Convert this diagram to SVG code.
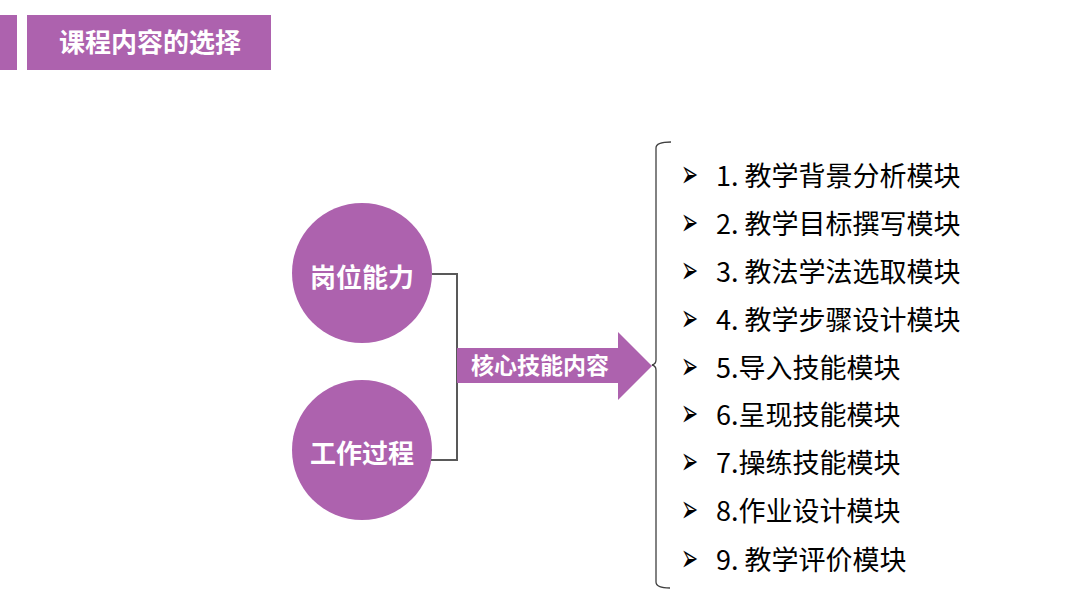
<svg xmlns="http://www.w3.org/2000/svg" width="1079" height="605" viewBox="0 0 1079 605">
<style>
.p{fill:#AD62AE}
.wt{fill:#fff;font-family:"Noto Sans CJK SC","Noto Sans",sans-serif;font-weight:bold}
.it{fill:#000;font-family:"Noto Sans CJK SC","Noto Sans",sans-serif;font-size:27px}
.bl{fill:#000;font-family:"DejaVu Sans",sans-serif;font-size:24px}
.cn{fill:none;stroke:#595959;stroke-width:2}
.br{fill:none;stroke:#404040;stroke-width:1.3}
</style>
<rect width="1079" height="605" fill="#fff"/>
<g id="title">
<rect class="p" x="0" y="15" width="17" height="55"/>
<rect class="p" x="27" y="15" width="244" height="55"/>
<text class="wt" x="59" y="52" font-size="26">课程内容的选择</text>
</g>
<g id="node-gangwei">
<circle class="p" cx="362" cy="273" r="70"/>
<text class="wt" x="362" y="287" font-size="26" text-anchor="middle">岗位能力</text>
</g>
<g id="node-gongzuo">
<circle class="p" cx="362" cy="450" r="70"/>
<text class="wt" x="362" y="463" font-size="26" text-anchor="middle">工作过程</text>
</g>
<g id="connectors">
<path class="cn" d="M432 274 H457 V460 H431"/>
</g>
<g id="node-hexin">
<path class="p" d="M457 348 H618 V332 L652 366 L618 400 V383 H457 Z"/>
<text class="wt" x="540" y="374" font-size="23" text-anchor="middle">核心技能内容</text>
</g>
<g id="bracket">
<path class="br" d="M671 142 Q656 142 656 148 V360 Q656 364 652 365 Q656 366 656 370 V582 Q656 588 670 588"/>
</g>
<g id="list">
<text class="bl" transform="translate(681,187) scale(0.85,1.6)">➢</text><text class="it" x="716" y="186">1. 教学背景分析模块</text>
<text class="bl" transform="translate(681,235) scale(0.85,1.6)">➢</text><text class="it" x="716" y="234">2. 教学目标撰写模块</text>
<text class="bl" transform="translate(681,283) scale(0.85,1.6)">➢</text><text class="it" x="716" y="282">3. 教法学法选取模块</text>
<text class="bl" transform="translate(681,331) scale(0.85,1.6)">➢</text><text class="it" x="716" y="330">4. 教学步骤设计模块</text>
<text class="bl" transform="translate(681,379) scale(0.85,1.6)">➢</text><text class="it" x="716" y="378">5.导入技能模块</text>
<text class="bl" transform="translate(681,426) scale(0.85,1.6)">➢</text><text class="it" x="716" y="425">6.呈现技能模块</text>
<text class="bl" transform="translate(681,474) scale(0.85,1.6)">➢</text><text class="it" x="716" y="473">7.操练技能模块</text>
<text class="bl" transform="translate(681,522) scale(0.85,1.6)">➢</text><text class="it" x="716" y="521">8.作业设计模块</text>
<text class="bl" transform="translate(681,571) scale(0.85,1.6)">➢</text><text class="it" x="716" y="570">9. 教学评价模块</text>
</g>
</svg>
